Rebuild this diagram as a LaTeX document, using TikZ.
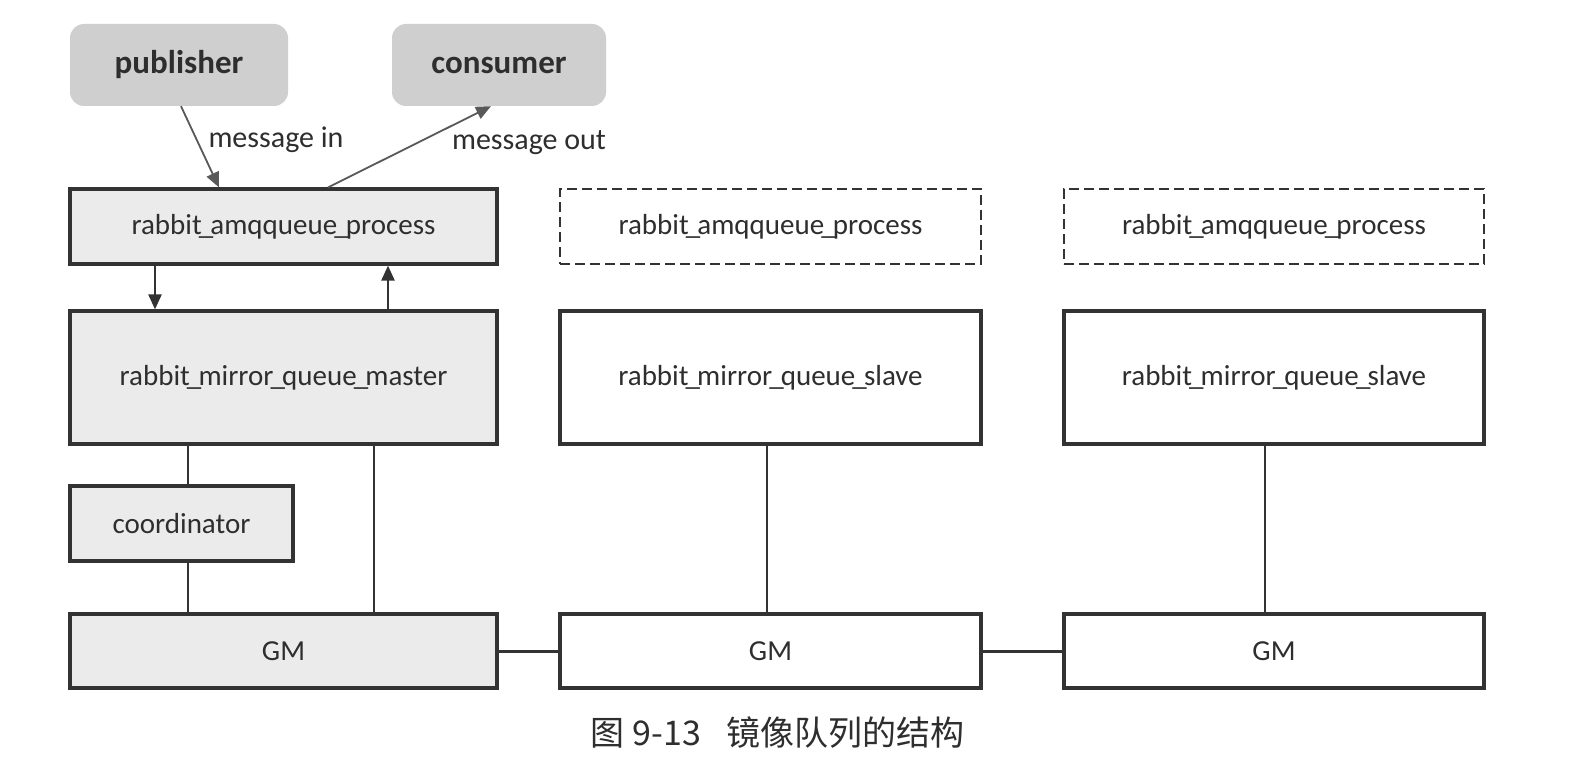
\documentclass[tikz,border=0pt]{standalone}
\usepackage{fontspec}
\setmainfont{Carlito}
\newfontfamily\cjk{Noto Sans CJK SC}
\usetikzlibrary{arrows.meta}
\newcommand{\usc}{\kern-0.1em\_\kern-0.1em}
\definecolor{edgec}{HTML}{333333}
\definecolor{darkfill}{HTML}{CFCFCF}
\definecolor{lightfill}{HTML}{EBEBEB}
\definecolor{txt}{HTML}{2E2E2E}
\tikzset{
  x=1pt, y=-1pt,
  boxbase/.style={draw=edgec, line width=3.2pt, text=txt, font=\fontsize{29}{32}\selectfont, inner sep=0pt},
  grayboxx/.style={boxbase, fill=lightfill},
  whitebox/.style={boxbase, fill=white},
  dashbox/.style={boxbase, fill=white, dash pattern=on 10pt off 5pt, line width=2.6pt},
  clientbox/.style={fill=darkfill, rounded corners=14pt, text=txt, font=\fontsize{33}{36}\selectfont\bfseries, inner sep=0pt},
  conn/.style={draw=edgec, line width=2.4pt},
  arr/.style={conn, -{Triangle[length=15pt,width=13pt]}},
  msgarr/.style={draw=gray!70!black, line width=1.8pt, -{Triangle[length=15pt,width=13pt]}},
  lbl/.style={text=txt, font=\fontsize{30}{32}\selectfont, inner sep=0pt}
}
\begin{document}
\begin{tikzpicture}
\useasboundingbox[fill=white] (0,0) rectangle (1589,765);
% clients
\node[clientbox, minimum width=218pt, minimum height=82pt] (pub) at (179,65) {publisher};
\node[clientbox, minimum width=214pt, minimum height=82pt] (con) at (499,65) {consumer};
% top row
\node[grayboxx, minimum width=427pt, minimum height=75pt] (amq1) at (283.5,226.5) {rabbit\usc amqqueue\usc process};
\node[dashbox, minimum width=421pt, minimum height=75pt] (amq2) at (770.5,226.5) {rabbit\usc amqqueue\usc process};
\node[dashbox, minimum width=420pt, minimum height=75pt] (amq3) at (1274,226.5) {rabbit\usc amqqueue\usc process};
% middle row
\node[grayboxx, minimum width=427pt, minimum height=133pt] (master) at (283.5,377.5) {rabbit\usc mirror\usc queue\usc master};
\node[whitebox, minimum width=421pt, minimum height=133pt] (slave1) at (770.5,377.5) {rabbit\usc mirror\usc queue\usc slave};
\node[whitebox, minimum width=420pt, minimum height=133pt] (slave2) at (1274,377.5) {rabbit\usc mirror\usc queue\usc slave};
% coordinator
\node[grayboxx, minimum width=223pt, minimum height=75pt] (coord) at (181.5,523.5) {coordinator};
% GM row
\node[grayboxx, minimum width=427pt, minimum height=74pt] (gm1) at (283.5,651) {GM};
\node[whitebox, minimum width=421pt, minimum height=74pt] (gm2) at (770.5,651) {GM};
\node[whitebox, minimum width=420pt, minimum height=74pt] (gm3) at (1274,651) {GM};
% message arrows
\draw[msgarr] (pub.south -| 181,0) -- (amq1.north -| 219,0);
\draw[msgarr] (amq1.north -| 328,0) -- (con.south -| 491,0);
\node[lbl] (min) at (276,140) {message in};
\node[lbl] (mout) at (529,143) {message out};
% amq1 <-> master
\draw[arr] (amq1.south -| 155,0) -- (master.north -| 155,0);
\draw[arr] (master.north -| 388,0) -- (amq1.south -| 388,0);
% master -> coordinator -> gm
\draw[conn] (master.south -| 188,0) -- (coord.north -| 188,0);
\draw[conn] (coord.south -| 188,0) -- (gm1.north -| 188,0);
\draw[conn] (master.south -| 374,0) -- (gm1.north -| 374,0);
% slaves -> gm
\draw[conn] (slave1.south -| 767,0) -- (gm2.north -| 767,0);
\draw[conn] (slave2.south -| 1265,0) -- (gm3.north -| 1265,0);
% gm chain
\draw[conn, line width=3pt] (gm1.east) -- (gm2.west);
\draw[conn, line width=3pt] (gm2.east) -- (gm3.west);
% caption
\node[text=txt, font=\cjk\fontsize{34}{36}\selectfont, inner sep=0pt] (cap) at (778,733) {图 9-13\hspace{26pt}镜像队列的结构};
\end{tikzpicture}
\end{document}
